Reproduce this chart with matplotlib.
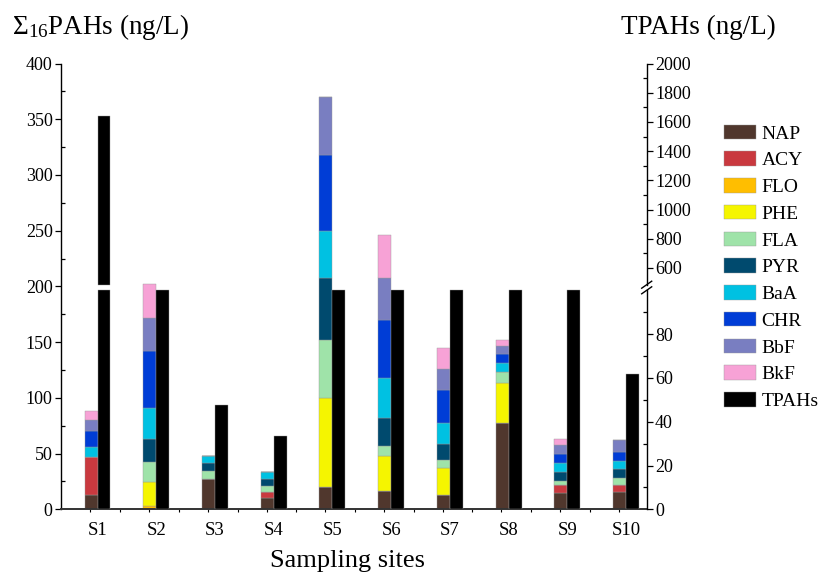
import numpy as np
import matplotlib
matplotlib.use("Agg")
import matplotlib.pyplot as plt

plt.rcParams['font.family'] = ['Liberation Serif', 'DejaVu Serif']
plt.rcParams['mathtext.fontset'] = 'custom'
plt.rcParams['mathtext.rm'] = 'Liberation Serif'
plt.rcParams['mathtext.it'] = 'Liberation Serif:italic'
plt.rcParams['mathtext.default'] = 'rm'

# ---------------- data ----------------
sites = ['S1', 'S2', 'S3', 'S4', 'S5', 'S6', 'S7', 'S8', 'S9', 'S10']
nap = [12.6, 0, 27.5, 10.4, 20.0, 16.7, 13.1, 77.8, 14.4, 15.8]
acy = [34.4, 0, 0, 5.4, 0, 0, 0, 0, 7.2, 6.3]
flo = [0, 3.0, 0, 0, 0, 0, 0, 0, 0, 0]
phe = [0, 21.8, 0, 0, 80.2, 31.2, 24.3, 35.6, 0, 0]
fla = [0, 17.4, 6.9, 5.4, 52.1, 9.2, 6.9, 9.9, 3.8, 6.0]
pyr = [0, 20.9, 7.5, 6.3, 54.8, 24.6, 14.4, 0, 8.4, 8.1]
baa = [9.3, 27.9, 6.0, 6.3, 42.6, 36.2, 19.1, 8.4, 7.8, 7.5]
chry = [14.3, 50.6, 0, 0, 68.3, 52.1, 29.4, 7.2, 8.1, 8.0]
bbf = [9.6, 30.0, 0, 0, 52.1, 37.5, 18.8, 7.8, 8.1, 10.6]
bkf = [8.0, 30.5, 0, 0, 0, 38.3, 18.6, 5.4, 5.1, 0]
tpahs = [1639, 210, 47.5, 33.6, 390, 260, 150, 170, 120, 61.9]

comp_names = ['NAP', 'ACY', 'FLO', 'PHE', 'FLA', 'PYR', 'BaA', 'CHR', 'BbF', 'BkF']
comp_values = [nap, acy, flo, phe, fla, pyr, baa, chry, bbf, bkf]
comp_colors = ['#50372D', '#C9393F', '#FFBE00', '#F5F500', '#9FE3A9',
               '#004A6E', '#00C1E2', '#003DD6', '#797EC1', '#F7A2D6']

LOW_MAX = 100    # top of lower right segment
UP_MIN = 485     # bottom of upper right segment

# ---------------- figure ----------------
fig = plt.figure(figsize=(8.26, 5.74), dpi=100)
ax = fig.add_axes([61 / 826, 64.7 / 574, 585.7 / 826, 445.8 / 574])

x = np.arange(1, len(sites) + 1)
w = 0.221
bottom = np.zeros(len(sites))
handles = []
for name, vals, col in zip(comp_names, comp_values, comp_colors):
    vals = np.array(vals, dtype=float)
    b = ax.bar(x, vals, width=-w, align='edge', bottom=bottom, color=col,
               edgecolor='#9a9a9a', linewidth=0.3, label=name)
    handles.append(b)
    bottom += vals

ax.set_xlim(0.378, 10.353)
ax.set_ylim(0, 400)
ax.set_yticks(np.arange(0, 401, 50))
ax.set_yticks(np.arange(25, 400, 50), minor=True)
ax.set_xticks(x)
ax.set_xticklabels(sites, fontsize=13.5)
ax.set_xticks(np.concatenate([x - 0.12, x[:-1] + 0.385]), minor=True)
ax.tick_params(axis='x', which='major', length=0, pad=9)
ax.tick_params(axis='x', which='minor', length=2.5, direction='out', width=0.8)
ax.tick_params(axis='y', which='major', length=4, direction='out', labelsize=13, width=0.9, pad=2)
ax.tick_params(axis='y', which='minor', length=3, direction='in', width=0.9)
ax.spines['top'].set_visible(False)
ax.spines['right'].set_visible(False)
ax.spines['left'].set_linewidth(1.0)
ax.spines['bottom'].set_linewidth(1.4)
ax.spines['bottom'].set_color('#333333')

tp = np.array(tpahs, dtype=float)

# lower right segment
ax_low = ax.twinx()
ax_low.set_ylim(0, 203.6)
tb = ax_low.bar(x, np.minimum(tp, LOW_MAX), width=w, align='edge', color='black',
                edgecolor='#9a9a9a', linewidth=0.3, label='TPAHs')
handles.append(tb)
ax_low.set_yticks([0, 20, 40, 60, 80])
ax_low.set_yticks([10, 30, 50, 70, 90], minor=True)
ax_low.spines['right'].set_bounds(0, LOW_MAX)

# upper right segment
ax_up = ax.twinx()
ax_up.set_ylim(2000 - 3053, 2000)
up = tp > UP_MIN
ax_up.bar(x[up], tp[up] - UP_MIN, bottom=UP_MIN, width=w, align='edge', color='black',
          edgecolor='#9a9a9a', linewidth=0.3)
ax_up.set_yticks(np.arange(600, 2001, 200))
ax_up.set_yticks(np.arange(700, 2000, 200), minor=True)
ax_up.spines['right'].set_bounds(UP_MIN, 2000)

for a in (ax_low, ax_up):
    for s in ('top', 'left', 'bottom'):
        a.spines[s].set_visible(False)
    a.spines['right'].set_linewidth(1.0)
    a.tick_params(axis='y', which='major', length=4, direction='out', labelsize=13, width=0.9, pad=2)
    a.tick_params(axis='y', which='minor', length=3, direction='in', width=0.9)

# break marks on the right axis
dx = 5 / 585.7
dy = 3.5 / 445.8
for yc in ((509.3 - 284.7) / 445.8, (509.3 - 290.3) / 445.8):
    ax.plot([1 - dx, 1 + dx], [yc - dy, yc + dy], transform=ax.transAxes,
            color='black', lw=1.0, clip_on=False)

# titles
fig.text(12 / 826, (574 - 33.5) / 574, r'$\Sigma_{16}$PAHs (ng/L)', fontsize=19.5,
         ha='left', va='baseline')
fig.text(776 / 826, (574 - 33.5) / 574, 'TPAHs (ng/L)', fontsize=19.5,
         ha='right', va='baseline')
fig.text(347 / 826, (574 - 567) / 574, 'Sampling sites', fontsize=19,
         ha='center', va='baseline')

# legend
fig.legend(handles, comp_names + ['TPAHs'], loc='upper left',
           bbox_to_anchor=(723.5 / 826, (574 - 124.5) / 574), frameon=False,
           borderpad=0, borderaxespad=0, handlelength=1.65, handleheight=0.77,
           handletextpad=0.31, labelspacing=0.45, fontsize=14)

fig.savefig('out.png', dpi=100)
